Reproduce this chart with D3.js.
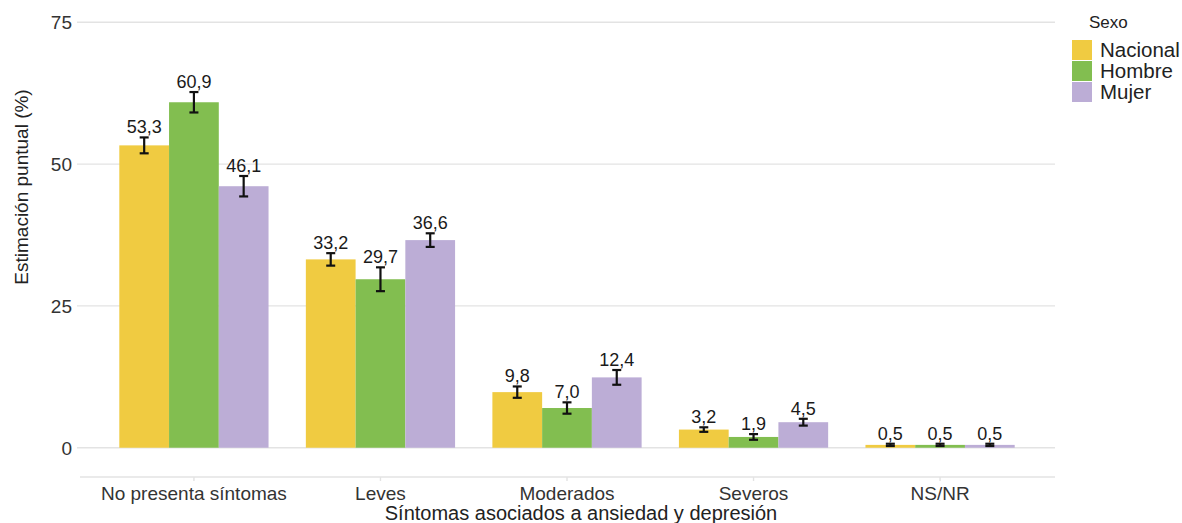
<!DOCTYPE html>
<html><head><meta charset="utf-8">
<script src="https://cdn.jsdelivr.net/npm/d3@7"></script>
<style>body{margin:0;background:#fff}svg{display:block}text{font-family:"Liberation Sans",Arial,sans-serif}</style>
</head><body><svg id="c" width="1182" height="523"></svg>
<script>
const categories = ["No presenta síntomas","Leves","Moderados","Severos","NS/NR"];
const seriesNames = ["Nacional","Hombre","Mujer"];
const nacional = [53.3, 33.2, 9.8, 3.2, 0.5];
const hombre   = [60.9, 29.7, 7.0, 1.9, 0.5];
const mujer    = [46.1, 36.6, 12.4, 4.5, 0.5];
const nacionalLow = [51.9, 32.1, 8.8, 2.8, 0.3];
const nacionalHigh = [54.7, 34.3, 10.8, 3.6, 0.7];
const hombreLow = [59.1, 27.6, 6.0, 1.4, 0.3];
const hombreHigh = [62.7, 31.8, 8.0, 2.4, 0.7];
const mujerLow = [44.3, 35.4, 11.1, 3.9, 0.3];
const mujerHigh = [47.9, 37.8, 13.7, 5.1, 0.7];
const yTicks = [0, 25, 50, 75];
const colors = ["#F0CB41", "#82BE50", "#BCADD6"];

(function () {
const values = [nacional, hombre, mujer];
const lows = [nacionalLow, hombreLow, mujerLow];
const highs = [nacionalHigh, hombreHigh, mujerHigh];

const svg = d3.select("#c");
const pLeft = 82, pRight = 1052, pTop = 1, pBottom = 469;
const y = d3.scaleLinear().domain([-3.75, 78.75]).range([pBottom, pTop]);
const step = (pRight - pLeft) / (categories.length - 1 + 1.2);
const x = d3.scalePoint().domain(categories).range([pLeft + 0.6 * step, pRight - 0.6 * step]);
const groupW = 0.8 * step;
const xs = d3.scaleBand().domain(seriesNames).range([-groupW / 2, groupW / 2]).padding(0);

svg.append("g").selectAll("line").data(yTicks).join("line")
  .attr("x1", 77).attr("x2", 1055)
  .attr("y1", d => y(d)).attr("y2", d => y(d))
  .attr("stroke", "#e3e3e3").attr("stroke-width", 1.4);

svg.append("g").selectAll("text").data(yTicks).join("text")
  .attr("x", 72).attr("y", d => y(d)).attr("dy", "0.36em")
  .attr("text-anchor", "end").attr("font-size", 19).attr("fill", "#333")
  .text(d => d);

const data = [];
categories.forEach((c, i) => seriesNames.forEach((s, j) => data.push({c, s, j, v: values[j][i], lo: lows[j][i], hi: highs[j][i]})));
svg.append("g").selectAll("rect").data(data).join("rect")
  .attr("x", d => x(d.c) + xs(d.s))
  .attr("width", xs.bandwidth())
  .attr("y", d => y(d.v))
  .attr("height", d => y(0) - y(d.v))
  .attr("fill", d => colors[d.j]);

const eb = svg.append("g").attr("stroke", "#111").attr("stroke-width", 2.2);
data.forEach(d => {
  const mx = x(d.c) + xs(d.s) + xs.bandwidth() / 2;
  eb.append("line").attr("x1", mx).attr("x2", mx).attr("y1", y(d.lo)).attr("y2", y(d.hi));
  eb.append("line").attr("x1", mx - 4.5).attr("x2", mx + 4.5).attr("y1", y(d.lo)).attr("y2", y(d.lo));
  eb.append("line").attr("x1", mx - 4.5).attr("x2", mx + 4.5).attr("y1", y(d.hi)).attr("y2", y(d.hi));
});

svg.append("g").selectAll("text").data(data).join("text")
  .attr("x", d => x(d.c) + xs(d.s) + xs.bandwidth() / 2)
  .attr("y", d => y(d.hi) - 4)
  .attr("text-anchor", "middle").attr("font-size", 18).attr("fill", "#1a1a1a")
  .text(d => d3.format(".1f")(d.v).replace(".", ","));

svg.append("line").attr("x1", 80).attr("x2", 1055).attr("y1", 477).attr("y2", 477)
  .attr("stroke", "#e3e3e3").attr("stroke-width", 1.4);
svg.append("g").selectAll("line").data(categories).join("line")
  .attr("x1", d => x(d)).attr("x2", d => x(d)).attr("y1", 477).attr("y2", 481)
  .attr("stroke", "#e3e3e3").attr("stroke-width", 1.4);
svg.append("g").selectAll("text").data(categories).join("text")
  .attr("x", d => x(d)).attr("y", 500)
  .attr("text-anchor", "middle").attr("font-size", 19).attr("fill", "#333")
  .text(d => d);

svg.append("text").attr("x", (pLeft + pRight) / 2 + 14).attr("y", 520)
  .attr("text-anchor", "middle").attr("font-size", 20).attr("fill", "#222")
  .text("Síntomas asociados a ansiedad y depresión");
svg.append("text").attr("transform", `translate(28,${(pTop + pBottom) / 2 - 48}) rotate(-90)`)
  .attr("text-anchor", "middle").attr("font-size", 19).attr("fill", "#222")
  .text("Estimación puntual (%)");

const lg = svg.append("g");
lg.append("text").attr("x", 1089).attr("y", 28).attr("font-size", 17).attr("fill", "#222").text("Sexo");
seriesNames.forEach((s, j) => {
  lg.append("rect").attr("x", 1072).attr("y", 40 + j * 21).attr("width", 20).attr("height", 20).attr("fill", colors[j]);
  lg.append("text").attr("x", 1100).attr("y", 57 + j * 21).attr("font-size", 20.5).attr("fill", "#222").text(s);
});
})();
</script></body></html>
